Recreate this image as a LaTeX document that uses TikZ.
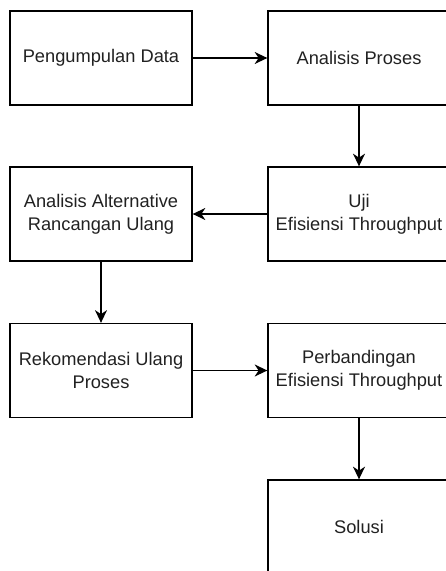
\documentclass[tikz,border=0pt]{standalone}
\usepackage{fontspec}
\setmainfont{Liberation Sans}
\usetikzlibrary{arrows.meta}
\begin{document}
\begin{tikzpicture}[x=0.75pt,y=-0.75pt,
  box/.style={draw=black,line width=1pt,minimum width=136.5pt,minimum height=70.5pt,
    inner sep=0pt,align=center,font=\fontsize{13.7pt}{17.3pt}\selectfont,text=black!87},
  conn/.style={line width=1pt,-{Stealth[length=9.5pt,width=9pt,inset=3pt]}}]
\useasboundingbox (0,0) rectangle (446,571);
\clip (0,0) rectangle (446,571);
\node[box] (pd) at (101,58) {Pengumpulan Data};
\node[box] (ap) at (359,58) {Analisis Proses};
\node[box] (uji) at (359,214) {Uji\\Efisiensi Throughput};
\node[box] (aa) at (101,214) {Analisis Alternative\\Rancangan Ulang};
\node[box] (rk) at (101,370.5) {Rekomendasi Ulang\\Proses};
\node[box] (pb) at (359,370.5) {Perbandingan\\Efisiensi Throughput};
\node[box] (sol) at (359,527) {Solusi};
\draw[conn] (pd) -- (ap);
\draw[conn] (ap) -- (uji);
\draw[conn] (uji) -- (aa);
\draw[conn] (aa) -- (rk);
\draw[conn] (rk) -- (pb);
\draw[conn] (pb) -- (sol);
\end{tikzpicture}
\end{document}
